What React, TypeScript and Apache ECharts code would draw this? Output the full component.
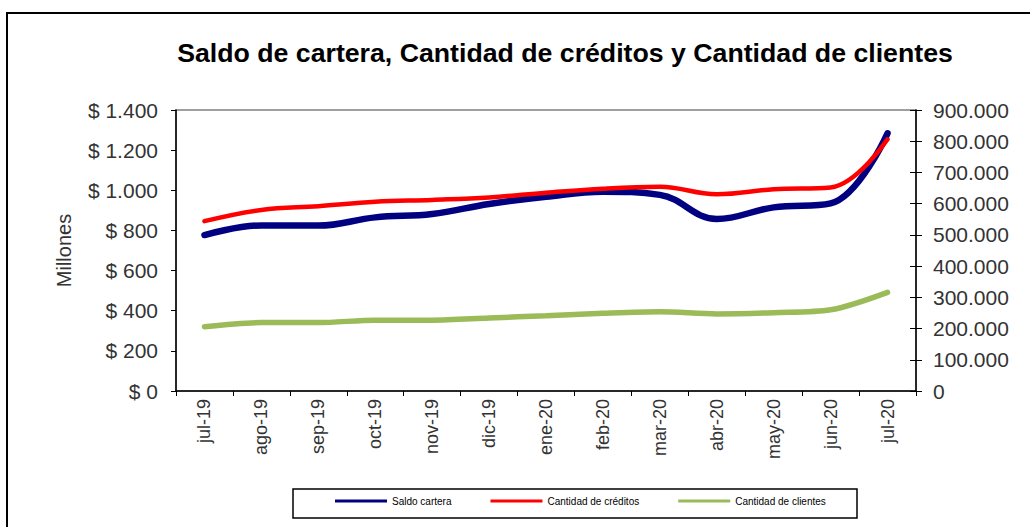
import React, { useEffect, useRef } from "react";
import * as echarts from "echarts";

const categories = ["jul-19", "ago-19", "sep-19", "oct-19", "nov-19", "dic-19", "ene-20", "feb-20", "mar-20", "abr-20", "may-20", "jun-20", "jul-20"];
const saldoCartera = [777, 825, 824, 865, 882, 932, 968, 993, 977, 857, 915, 935, 1284];
const cantidadCreditos = [544000, 580000, 592000, 606000, 612000, 620000, 635000, 648000, 654000, 630000, 646000, 652000, 806000];
const cantidadClientes = [206000, 219000, 219000, 227000, 227000, 234000, 241000, 249000, 254000, 247000, 251000, 260000, 316000];

const FONT = "Arial, 'Liberation Sans', sans-serif";

const fmtThousands = (v: number) => {
  const s = Math.round(v).toString();
  return s.replace(/\B(?=(\d{3})+(?!\d))/g, ".");
};

export default function App() {
  const ref = useRef<HTMLDivElement>(null);
  useEffect(() => {
    if (!ref.current) return;
    const chart = echarts.init(ref.current, null, { renderer: "svg" });
    chart.setOption({
      animation: false,
      backgroundColor: "#ffffff",
      graphic: [
        {
          type: "rect",
          shape: { x: 7, y: 13, width: 1040, height: 540 },
          style: { fill: "none", stroke: "#000", lineWidth: 2 },
          silent: true,
        },
        {
          type: "rect",
          shape: { x: 293, y: 489, width: 564, height: 29 },
          style: { fill: "none", stroke: "#000", lineWidth: 1.5 },
          silent: true,
        },
        {
          type: "text",
          x: 565,
          y: 53,
          style: {
            text: "Saldo de cartera, Cantidad de créditos y Cantidad de clientes",
            font: `bold 26.7px ${FONT}`,
            fill: "#000",
            textAlign: "center",
            textVerticalAlign: "middle",
          },
        },
      ],
      legend: {
        left: 335,
        top: 496,
        icon: "rect",
        itemWidth: 52,
        itemHeight: 3,
        itemGap: 39,
        padding: 0,
        textStyle: { fontSize: 10, fontFamily: FONT, color: "#000" },
        data: ["Saldo cartera", "Cantidad de créditos", "Cantidad de clientes"],
      },
      grid: {
        left: 176,
        right: 114,
        top: 110,
        bottom: 136,
        show: true,
        borderColor: "#808080",
        borderWidth: 1.5,
        backgroundColor: "#fff",
      },
      xAxis: {
        type: "category",
        data: categories,
        boundaryGap: true,
        axisLine: { lineStyle: { color: "#000", width: 1.5 } },
        axisTick: { show: true, length: 5, interval: 0, lineStyle: { color: "#000" } },
        axisLabel: {
          rotate: 90,
          interval: 0,
          margin: 8,
          fontSize: 18,
          fontFamily: FONT,
          color: "#333",
        },
        splitLine: { show: false },
      },
      yAxis: [
        {
          type: "value",
          position: "left",
          min: 0,
          max: 1400,
          interval: 200,
          name: "Millones",
          nameLocation: "middle",
          nameGap: 102,
          nameRotate: 90,
          nameTextStyle: { fontSize: 20, fontFamily: FONT, color: "#333" },
          axisLine: { show: true, lineStyle: { color: "#000", width: 1.5 } },
          axisTick: { show: true, length: 5, lineStyle: { color: "#000" } },
          axisLabel: {
            margin: 18,
            fontSize: 21,
            fontFamily: FONT,
            color: "#333",
            formatter: (v: number) => "$ " + fmtThousands(v),
          },
          splitLine: { show: false },
        },
        {
          type: "value",
          position: "right",
          min: 0,
          max: 900000,
          interval: 100000,
          axisLine: { show: true, lineStyle: { color: "#000", width: 1.5 } },
          axisTick: { show: true, length: 6, lineStyle: { color: "#000" } },
          axisLabel: {
            margin: 17,
            fontSize: 21,
            fontFamily: FONT,
            color: "#333",
            formatter: (v: number) => fmtThousands(v),
          },
          splitLine: { show: false },
        },
        {
          type: "value",
          position: "right",
          min: 0,
          max: 900000,
          interval: 100000,
          axisLine: { show: false },
          axisTick: { show: true, inside: true, length: 6, lineStyle: { color: "#000" } },
          axisLabel: { show: false },
          splitLine: { show: false },
        },
      ],
      series: [
        {
          name: "Saldo cartera",
          type: "line",
          yAxisIndex: 0,
          data: saldoCartera,
          smooth: 0.4,
          showSymbol: false,
          symbol: "none",
          color: "#000080",
          lineStyle: { color: "#000080", width: 6.5, cap: "round" },
          z: 3,
        },
        {
          name: "Cantidad de créditos",
          type: "line",
          yAxisIndex: 1,
          data: cantidadCreditos,
          smooth: 0.4,
          showSymbol: false,
          symbol: "none",
          color: "#ff0000",
          lineStyle: { color: "#ff0000", width: 4.5, cap: "round" },
          z: 4,
        },
        {
          name: "Cantidad de clientes",
          type: "line",
          yAxisIndex: 1,
          data: cantidadClientes,
          smooth: 0.3,
          showSymbol: false,
          symbol: "none",
          color: "#9bbb59",
          lineStyle: { color: "#9bbb59", width: 5.5, cap: "round" },
          z: 2,
        },
      ],
    });
    return () => chart.dispose();
  }, []);
  return (
    <div
      ref={ref}
      style={{ position: "fixed", left: 0, top: 0, width: 1030, height: 527 }}
    />
  );
}
